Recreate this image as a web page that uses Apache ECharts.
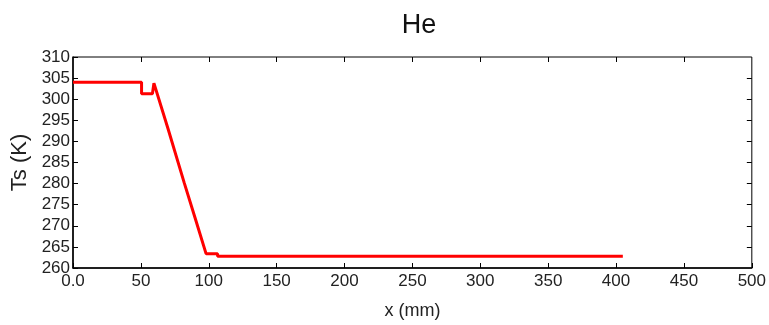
<!DOCTYPE html>
<html>
<head>
<meta charset="utf-8">
<script src="https://cdn.jsdelivr.net/npm/echarts@6/dist/echarts.min.js"></script>
<style>
  html, body { margin: 0; padding: 0; background: #fff; }
  #chart { width: 769px; height: 325px; }
</style>
</head>
<body>
<div id="chart"></div>
<script>
// x position (mm) and surface temperature (K)
const xMm = [0, 50.5, 50.5, 58.5, 59.6, 60.2, 70, 82, 90, 98, 100, 106.5, 106.5, 405];
const tsK = [304, 304, 301.3, 301.3, 303.8, 303.5, 293, 280.1, 271.8, 263.4, 263.4, 263.4, 262.8, 262.8];
const xTicks = [0, 50, 100, 150, 200, 250, 300, 350, 400, 450, 500];
const yTicks = [260, 265, 270, 275, 280, 285, 290, 295, 300, 305, 310];

const font = '"Liberation Sans Narrow", "Arial Narrow", "Liberation Sans", Arial, sans-serif';

const chart = echarts.init(document.getElementById('chart'));

const line = xMm.map((x, i) => [x, tsK[i]]);

const option = {
  animation: false,
  title: {
    text: 'He',
    left: 414,
    textAlign: 'center',
    top: 7,
    textStyle: { fontFamily: 'Liberation Sans, Arial, sans-serif', fontSize: 27, fontWeight: 'normal', color: '#111' }
  },
  grid: { left: 73, right: 14, top: 57, bottom: 57, show: true, borderColor: '#000', borderWidth: 1 },
  xAxis: {
    type: 'value',
    min: xTicks[0],
    max: xTicks[xTicks.length - 1],
    interval: 50,
    name: 'x (mm)',
    nameLocation: 'middle',
    nameGap: 34,
    nameTextStyle: { fontFamily: 'Liberation Sans, Arial, sans-serif', fontSize: 18, color: '#222' },
    axisLine: { show: true, lineStyle: { color: '#000', width: 1.5 } },
    axisTick: { inside: true, length: 5, lineStyle: { color: '#000' } },
    splitLine: { show: false },
    axisLabel: {
      margin: 5,
      fontFamily: font,
      fontSize: 17,
      color: '#222',
      formatter: v => (v === 0 ? '0.0' : String(v))
    }
  },
  yAxis: {
    type: 'value',
    min: yTicks[0],
    max: yTicks[yTicks.length - 1],
    interval: 5,
    name: 'Ts (K)',
    nameLocation: 'middle',
    nameGap: 38,
    nameTextStyle: { fontFamily: 'Liberation Sans, Arial, sans-serif', fontSize: 22, color: '#222' },
    axisLine: { show: true, lineStyle: { color: '#000', width: 1.5 } },
    axisTick: { inside: true, length: 5, lineStyle: { color: '#000' } },
    splitLine: { show: false },
    axisLabel: {
      margin: 3,
      fontFamily: font,
      fontSize: 17,
      color: '#222'
    }
  },
  series: [
    {
      type: 'line',
      data: line,
      showSymbol: false,
      lineStyle: { color: '#ff0000', width: 3 },
      z: 3
    },
    // mirrored ticks on top and right edges of the box
    {
      type: 'line',
      data: [],
      markLine: {
        silent: true,
        symbol: 'none',
        label: { show: false },
        lineStyle: { color: '#000', type: 'solid', width: 1 },
        data: xTicks.slice(1, -1).map(v => [
          { coord: [v, 310] },
          { coord: [v, 310 - 5 / 4.23] }
        ]).concat(yTicks.slice(1, -1).map(v => [
          { coord: [500, v] },
          { coord: [500 - 5 / 1.364, v] }
        ]))
      }
    }
  ]
};

chart.setOption(option);
</script>
</body>
</html>
